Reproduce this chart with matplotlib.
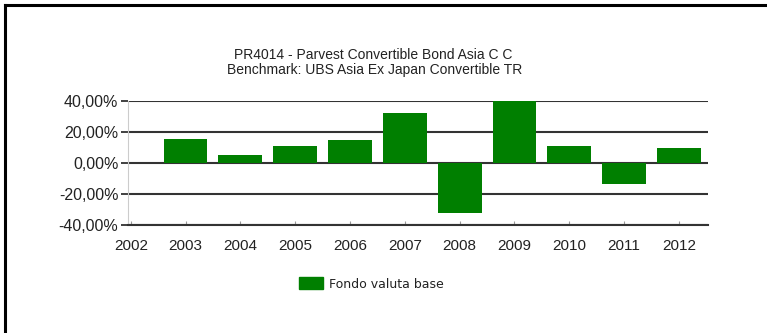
import matplotlib.pyplot as plt
from matplotlib.lines import Line2D

years = [2003, 2004, 2005, 2006, 2007, 2008, 2009, 2010, 2011, 2012]
returns = [15.5, 5.0, 10.8, 14.4, 31.9, -32.0, 40.0, 10.8, -13.9, 9.7]
year_ticks = list(range(2002, 2013))
y_ticks = [-40, -20, 0, 20, 40]
title1 = "PR4014 - Parvest Convertible Bond Asia C C"
title2 = "Benchmark: UBS Asia Ex Japan Convertible TR"
series_name = "Fondo valuta base"

plt.rcParams['font.family'] = ['Liberation Sans', 'DejaVu Sans']

fig = plt.figure(figsize=(7.67, 3.33), dpi=100)
ax = fig.add_axes([0.1669, 0.3243, 0.923 - 0.1669, 0.6976 - 0.3243])

ax.bar(years, returns, width=0.8, color="#007f00", zorder=3)

ax.set_ylim(-40, 40)
ax.set_xlim(2001.95, 2012.53)
ax.set_yticks(y_ticks)
ax.set_yticklabels(["%d,00%%" % v for v in y_ticks], fontsize=11.5, color="#222222")
ax.set_xticks(year_ticks)
ax.set_xticklabels([str(y) for y in year_ticks], fontsize=11, color="#222222")
ax.yaxis.grid(True, color="#333333", linewidth=1.5, zorder=1)
ax.set_axisbelow(True)
ax.tick_params(axis="x", direction="in", length=3, color="#999999", pad=10)
ax.tick_params(axis="y", direction="out", length=5, color="#333333", width=1.3, pad=2)
for s in ["top", "right"]:
    ax.spines[s].set_visible(False)
ax.spines["left"].set_color("#cccccc")
ax.spines["bottom"].set_color("#333333")
ax.spines["bottom"].set_linewidth(1.5)

fig.text(0.487, 1 - 55 / 333, title1, ha="center", va="center", fontsize=10, color="#222222")
fig.text(0.488, 1 - 70 / 333, title2, ha="center", va="center", fontsize=10, color="#222222")

# legend
fig.patches.append(plt.Rectangle((299 / 767, 1 - 289 / 333), 24 / 767, 12 / 333,
                                 transform=fig.transFigure, color="#007f00"))
fig.text(329 / 767, 1 - 284 / 333, series_name, ha="left", va="center", fontsize=9,
         color="#222222", family=["DejaVu Sans"])

# outer frame (top and left)
fig.add_artist(Line2D([5 / 767, 1], [1 - 5 / 333, 1 - 5 / 333], transform=fig.transFigure,
                      color="black", linewidth=2.2))
fig.add_artist(Line2D([5 / 767, 5 / 767], [0, 1 - 5 / 333], transform=fig.transFigure,
                      color="black", linewidth=2.2))

fig.savefig("out.png", dpi=100)
